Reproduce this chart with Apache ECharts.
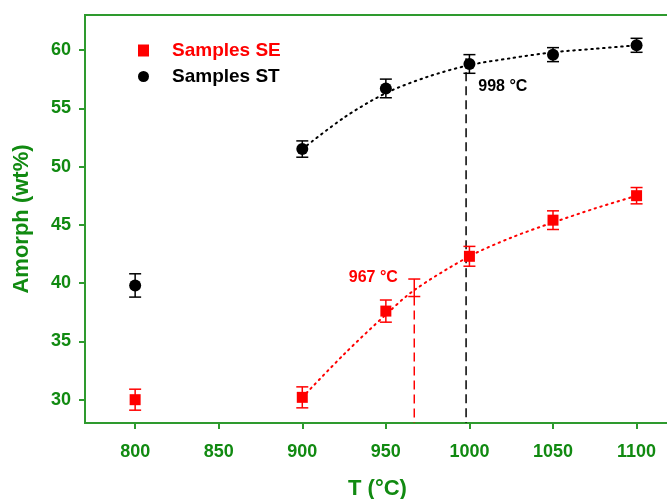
<!DOCTYPE html>
<html><head><meta charset="utf-8">
<script src="https://cdn.jsdelivr.net/npm/echarts@6/dist/echarts.min.js"></script>
<style>html,body{margin:0;padding:0;background:#fff}#c{width:667px;height:499px}</style>
</head><body><div id="c"></div>
<script>
// Data
const temps = [800, 900, 950, 1000, 1050, 1100];
const seVals = [30.0, 30.2, 37.6, 42.3, 45.4, 47.5];
const seErr  = [0.9, 0.9, 0.95, 0.85, 0.8, 0.7];
const stVals = [39.8, 51.5, 56.7, 58.8, 59.6, 60.4];
const stErr  = [1.0, 0.7, 0.8, 0.8, 0.6, 0.6];
const seFitT = [900, 925, 950, 967, 1000, 1025, 1050, 1075, 1100];
const seFitV = [30.2, 33.9, 37.3, 39.4, 42.3, 43.9, 45.2, 46.4, 47.5];
const stFitT = [900, 925, 950, 975, 1000, 1025, 1050, 1075, 1100];
const stFitV = [51.5, 54.2, 56.3, 57.7, 58.7, 59.3, 59.8, 60.1, 60.4];
const seMark = {t: 967, v: 39.6, err: 0.75, label: '967 °C'};
const stMark = {t: 998, v: 58.8, label: '998 °C'};
const xTicks = [800, 850, 900, 950, 1000, 1050, 1100];
const yTicks = [30, 35, 40, 45, 50, 55, 60];

const GREEN = '#118a11';
const LINEG = '#2e9a2e';
const FONT = 'Liberation Sans, Arial, sans-serif';

function errSeries(color, rows) {
  return {
    type: 'custom', silent: true, z: 3,
    renderItem: function (params, api) {
      const x = api.value(0), lo = api.value(1), hi = api.value(2);
      const a = api.coord([x, lo]), b = api.coord([x, hi]);
      const w = 6;
      const st = {stroke: color, lineWidth: 1.5};
      return {type: 'group', children: [
        {type: 'line', shape: {x1: a[0], y1: a[1], x2: b[0], y2: b[1]}, style: st},
        {type: 'line', shape: {x1: a[0]-w, y1: a[1], x2: a[0]+w, y2: a[1]}, style: st},
        {type: 'line', shape: {x1: b[0]-w, y1: b[1], x2: b[0]+w, y2: b[1]}, style: st}
      ]};
    },
    encode: {x: 0, y: [1, 2]},
    data: rows
  };
}

const chart = echarts.init(document.getElementById('c'));
chart.setOption({
  animation: false,
  backgroundColor: '#fff',
  grid: {left: 85, top: 15, right: -3, bottom: 76, show: true, borderColor: LINEG, borderWidth: 2,
         containLabel: false, outerBoundsMode: 'none'},
  legend: {
    orient: 'vertical', left: 133, top: 36, itemGap: 7,
    itemWidth: 11, itemHeight: 12, selectedMode: false,
    textStyle: {fontFamily: FONT, fontWeight: 'bold', fontSize: 19, padding: [0, 0, 0, 18]},
    data: [
      {name: 'Samples SE', icon: 'rect', itemStyle: {opacity: 1}, textStyle: {color: '#ff0000'}},
      {name: 'Samples ST', icon: 'circle', itemStyle: {opacity: 1}, textStyle: {color: '#000'}}
    ]
  },
  xAxis: {
    type: 'value', min: 770, max: 1120,
    name: 'T (°C)', nameLocation: 'middle', nameGap: 55,
    nameTextStyle: {color: GREEN, fontFamily: FONT, fontWeight: 'bold', fontSize: 22},
    axisLine: {show: true, lineStyle: {color: LINEG, width: 2}},
    axisTick: {show: true, length: 6, lineStyle: {color: LINEG, width: 2}, customValues: xTicks},
    axisLabel: {color: GREEN, fontFamily: FONT, fontWeight: 'bold', fontSize: 18, margin: 20, customValues: xTicks,
                formatter: v => String(v)},
    splitLine: {show: false}
  },
  yAxis: {
    type: 'value', min: 28, max: 63,
    name: 'Amorph (wt%)', nameLocation: 'middle', nameGap: 52,
    nameTextStyle: {color: GREEN, fontFamily: FONT, fontWeight: 'bold', fontSize: 22},
    axisLine: {show: true, lineStyle: {color: LINEG, width: 2}},
    axisTick: {show: true, length: 6, lineStyle: {color: LINEG, width: 2}, customValues: yTicks},
    axisLabel: {color: GREEN, fontFamily: FONT, fontWeight: 'bold', fontSize: 18, margin: 14, customValues: yTicks,
                formatter: v => String(v)},
    splitLine: {show: false}
  },
  series: [
    {name: 'fitSE', type: 'line', data: seFitT.map((t, i) => [t, seFitV[i]]), smooth: 0.3, showSymbol: false, silent: true,
     lineStyle: {color: '#ff0000', width: 2, type: [1.5, 4.5], cap: 'round'}, z: 1},
    {name: 'fitST', type: 'line', data: stFitT.map((t, i) => [t, stFitV[i]]), smooth: 0.3, showSymbol: false, silent: true,
     lineStyle: {color: '#000', width: 2, type: [1.5, 4.5], cap: 'round'}, z: 1},
    {name: 'dashSE', type: 'line', data: [[seMark.t, seMark.v - seMark.err], [seMark.t, 28]], showSymbol: false, silent: true,
     lineStyle: {color: '#ff0000', width: 1.5, type: [9, 5]}, z: 1},
    {name: 'dashST', type: 'line', data: [[stMark.t, stMark.v + 0.5], [stMark.t, 28]], showSymbol: false, silent: true,
     lineStyle: {color: '#000', width: 1.5, type: [9, 5]}, z: 1},
    errSeries('#ff0000', temps.map((t, i) => [t, seVals[i] - seErr[i], seVals[i] + seErr[i]]).concat([[seMark.t, seMark.v - seMark.err, seMark.v + seMark.err]])),
    errSeries('#000', temps.map((t, i) => [t, stVals[i] - stErr[i], stVals[i] + stErr[i]])),
    {name: 'Samples SE', type: 'scatter', symbol: 'rect', symbolSize: 11, itemStyle: {color: '#ff0000', opacity: 1}, z: 4,
     data: temps.map((t, i) => [t, seVals[i]])},
    {name: 'Samples ST', type: 'scatter', symbol: 'circle', symbolSize: 12, itemStyle: {color: '#000', opacity: 1}, z: 4,
     data: temps.map((t, i) => [t, stVals[i]])},
    {name: 'labels', type: 'scatter', symbolSize: 0, silent: true, z: 5, itemStyle: {opacity: 1},
     data: [
       {value: [942.5, 40.45], label: {show: true, position: 'inside', formatter: seMark.label, color: '#ff0000', fontFamily: FONT, fontWeight: 'bold', fontSize: 16}},
       {value: [1020, 56.85], label: {show: true, position: 'inside', formatter: stMark.label, color: '#000', fontFamily: FONT, fontWeight: 'bold', fontSize: 16}}
     ]}
  ]
});
</script>
</body></html>
